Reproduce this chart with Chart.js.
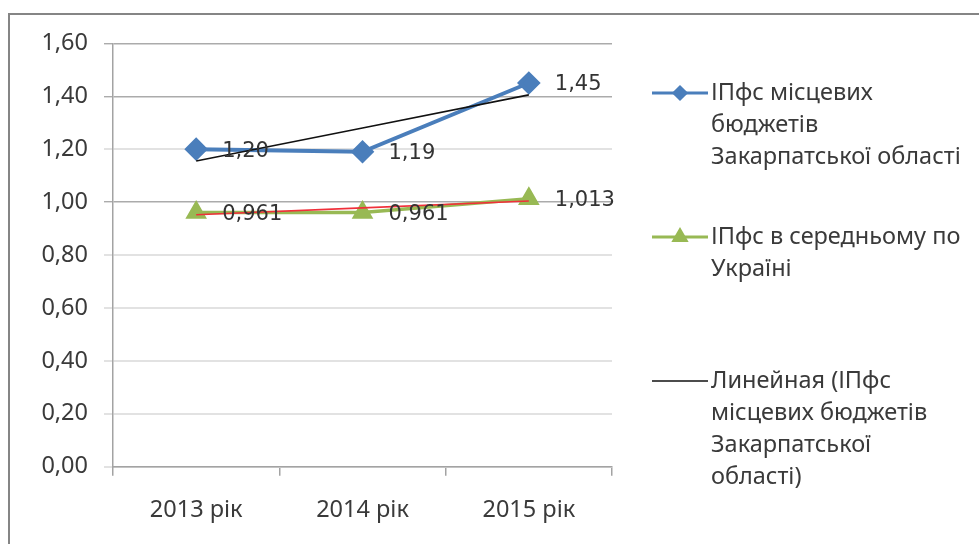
<!DOCTYPE html>
<html>
<head>
<meta charset="utf-8">
<script src="https://cdn.jsdelivr.net/npm/chart.js@4/dist/chart.umd.min.js"></script>
<style>
  html, body { margin: 0; padding: 0; background: #fff; }
  #wrap { position: relative; width: 979px; height: 544px; overflow: hidden; }
  #frame { position: absolute; left: 8px; top: 13px; width: 1000px; height: 600px;
           border-top: 2px solid #858585; border-left: 2px solid #858585; box-sizing: border-box; }
  canvas { position: absolute; left: 0; top: 0; }
</style>
</head>
<body>
<div id="wrap">
  <div id="frame"></div>
  <canvas id="c" width="979" height="544"></canvas>
</div>
<script>
// Years on the horizontal axis
const years = ['2013 рік', '2014 рік', '2015 рік'];

// Fiscal capacity index of local budgets, Zakarpattia oblast
const zakarpattia = [1.20, 1.19, 1.45];
// Fiscal capacity index, average over Ukraine
const ukraineAvg = [0.961, 0.961, 1.013];

// Linear trend lines
const zakarpattiaTrend = [1.155, 1.28, 1.405];
const ukraineTrend = [0.952, 0.978, 1.004];

// Vertical axis ticks
const yTicks = [0, 0.2, 0.4, 0.6, 0.8, 1.0, 1.2, 1.4, 1.6];

// Legend entries, one line per row of text
const legendZakarpattia = ['ІПфс місцевих', 'бюджетів', 'Закарпатської області'];
const legendUkraine = ['ІПфс в середньому по', 'Україні'];
const legendTrend = ['Линейная (ІПфс', 'місцевих бюджетів', 'Закарпатської', 'області)'];

const BLUE = '#4A7EBB';
const GREEN = '#98B954';
const RED = '#F0303A';
const TEXT = '#3a3a3a';
const AXIS_FONT = '"Noto Sans", "Open Sans", sans-serif';
const FONT_SIZE = 23.5;

const fmt = (v, d) => v.toFixed(d).replace('.', ',');

// Value labels to the right of each point
const valueLabels = {
  id: 'valueLabels',
  afterDatasetsDraw(chart) {
    const ctx = chart.ctx;
    ctx.save();
    ctx.font = '21px "DejaVu Sans", sans-serif';
    ctx.fillStyle = '#333';
    ctx.textAlign = 'left';
    ctx.textBaseline = 'middle';
    chart.data.datasets.forEach((ds, i) => {
      if (ds.decimals === undefined) return;
      const meta = chart.getDatasetMeta(i);
      meta.data.forEach((pt, j) => {
        ctx.fillText(fmt(ds.data[j], ds.decimals), pt.x + 26, pt.y + 2);
      });
    });
    ctx.restore();
  }
};

// Legend on the right, with wrapped entry names
const sideLegend = {
  id: 'sideLegend',
  afterDraw(chart) {
    const ctx = chart.ctx;
    const entries = chart.data.datasets
      .filter(ds => ds.legendLines)
      .sort((a, b) => a.legendIndex - b.legendIndex);
    const firstLineY = [93, 237, 381];
    const lineH = 32;
    const x0 = 652, x1 = 708, tx = 711;
    ctx.save();
    entries.forEach((ds, k) => {
      const y = firstLineY[k];
      ctx.strokeStyle = ds.borderColor;
      ctx.lineWidth = ds.legendLineWidth;
      ctx.beginPath();
      ctx.moveTo(x0, y);
      ctx.lineTo(x1, y);
      ctx.stroke();
      if (ds.pointStyle && ds.pointRadius > 0) {
        ctx.fillStyle = ds.pointBackgroundColor;
        ctx.strokeStyle = ds.pointBackgroundColor;
        Chart.helpers.drawPoint(ctx, {
          pointStyle: ds.pointStyle, radius: ds.legendPointRadius, rotation: 0, borderWidth: 1
        }, (x0 + x1) / 2, y);
      }
      ctx.font = FONT_SIZE + 'px ' + AXIS_FONT;
      ctx.fillStyle = TEXT;
      ctx.textAlign = 'left';
      ctx.textBaseline = 'middle';
      ds.legendLines.forEach((line, n) => ctx.fillText(line, tx, y + n * lineH));
    });
    ctx.restore();
  }
};

const darkGrid = v => [1.6, 1.4, 1.0].some(t => Math.abs(t - v) < 1e-6);

new Chart(document.getElementById('c'), {
  type: 'line',
  data: {
    labels: years,
    datasets: [
      {
        label: legendTrend.join(' '),
        legendLines: legendTrend,
        legendIndex: 2,
        data: zakarpattiaTrend,
        borderColor: '#111',
        borderWidth: 1.6,
        legendLineWidth: 1.6,
        pointRadius: 0,
        order: 0
      },
      {
        label: 'trend-ukraine',
        data: ukraineTrend,
        borderColor: RED,
        borderWidth: 1.6,
        pointRadius: 0,
        order: 0
      },
      {
        label: legendZakarpattia.join(' '),
        legendLines: legendZakarpattia,
        legendIndex: 0,
        decimals: 2,
        data: zakarpattia,
        borderColor: BLUE,
        backgroundColor: BLUE,
        borderWidth: 4,
        legendLineWidth: 3,
        pointStyle: 'rectRot',
        pointRadius: 9,
        legendPointRadius: 6,
        pointBackgroundColor: BLUE,
        pointBorderColor: BLUE,
        order: 1
      },
      {
        label: legendUkraine.join(' '),
        legendLines: legendUkraine,
        legendIndex: 1,
        decimals: 3,
        data: ukraineAvg,
        borderColor: GREEN,
        backgroundColor: GREEN,
        borderWidth: 3.5,
        legendLineWidth: 3,
        pointStyle: 'triangle',
        pointRadius: 9,
        legendPointRadius: 7,
        pointBackgroundColor: GREEN,
        pointBorderColor: GREEN,
        order: 2
      }
    ]
  },
  options: {
    responsive: false,
    devicePixelRatio: 1,
    animation: false,
    layout: { padding: { top: 43.3, right: 367, bottom: 0, left: 0 } },
    plugins: { legend: { display: false }, tooltip: { enabled: false } },
    elements: { line: { tension: 0 } },
    scales: {
      x: {
        offset: true,
        grid: { offset: true, drawOnChartArea: false, drawTicks: true, tickLength: 9, color: '#a3a3a3', lineWidth: 1.5 },
        border: { color: '#a3a3a3', width: 1.5 },
        ticks: { color: TEXT, font: { family: AXIS_FONT, size: FONT_SIZE }, padding: 21, maxRotation: 0 },
        afterFit(s) { s.height = 77.3; }
      },
      y: {
        min: 0,
        max: 1.6,
        afterBuildTicks(s) { s.ticks = yTicks.map(v => ({ value: v })); },
        grid: {
          drawTicks: true,
          tickLength: 9,
          color: c => darkGrid(c.tick.value) ? '#ababab' : '#e2e2e2',
          lineWidth: c => darkGrid(c.tick.value) ? 1.4 : 2
        },
        border: { color: '#a3a3a3', width: 1.5 },
        ticks: {
          color: TEXT,
          font: { family: AXIS_FONT, size: FONT_SIZE },
          padding: 16,
          callback: v => fmt(v, 2)
        },
        afterFit(s) { s.width = 113; }
      }
    }
  },
  plugins: [valueLabels, sideLegend]
});
</script>
</body>
</html>
